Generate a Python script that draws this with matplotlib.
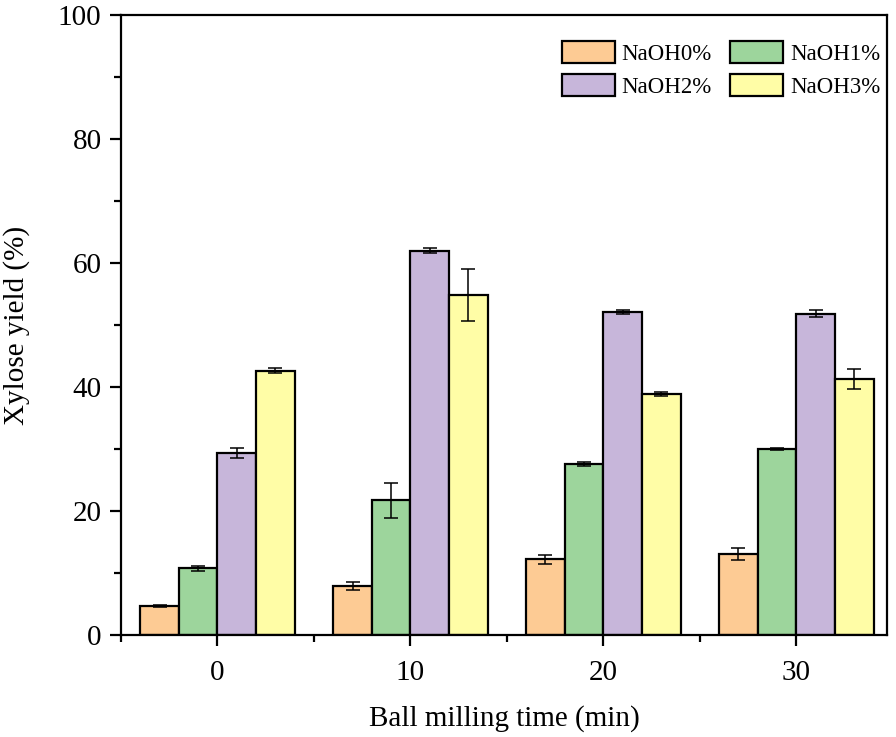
import numpy as np
import matplotlib.pyplot as plt
from matplotlib.ticker import MultipleLocator

plt.rcParams['font.family'] = ['Liberation Serif', 'DejaVu Serif']

times = ['0', '10', '20', '30']
series = ['NaOH0%', 'NaOH1%', 'NaOH2%', 'NaOH3%']
naoh0 = [4.7, 7.9, 12.2, 13.1]
naoh1 = [10.8, 21.7, 27.6, 30.0]
naoh2 = [29.3, 62.0, 52.1, 51.8]
naoh3 = [42.6, 54.9, 38.9, 41.3]
err0 = [0.2, 0.7, 0.75, 1.0]
err1 = [0.4, 2.8, 0.3, 0.15]
err2 = [0.8, 0.4, 0.3, 0.55]
err3 = [0.4, 4.2, 0.3, 1.6]
colors = ['#FDCB94', '#9DD59C', '#C7B6DA', '#FFFDA6']

values = [naoh0, naoh1, naoh2, naoh3]
errors = [err0, err1, err2, err3]

fig = plt.figure(figsize=(8.96, 7.37), dpi=100)
ax = fig.add_axes([0.135, 0.1384, 0.855, 0.8412])

x = np.arange(len(times))
w = 0.2
for i, (v, e) in enumerate(zip(values, errors)):
    ax.bar(x + (i - 1.5) * w, v, w, color=colors[i], edgecolor='black',
           linewidth=1.6, label=series[i],
           yerr=e, capsize=5, error_kw=dict(ecolor='black', elinewidth=1.1, capthick=1.1))

ax.set_xlim(-0.5, 3.47)
ax.set_ylim(0, 100)
ax.set_xticks(x)
ax.set_xticklabels(times)
ax.xaxis.set_minor_locator(MultipleLocator(0.5))
ax.yaxis.set_major_locator(MultipleLocator(20))
ax.yaxis.set_minor_locator(MultipleLocator(10))

for s in ax.spines.values():
    s.set_linewidth(1.6)
ax.tick_params(which='major', direction='out', length=8, width=1.6, labelsize=21)
ax.tick_params(which='minor', direction='out', length=5, width=1.6)
ax.tick_params(axis='x', which='major', pad=10)
ax.tick_params(axis='y', which='major', pad=6)

ax.set_xlabel('Ball milling time (min)', fontsize=21, labelpad=14)
ax.set_ylabel('Xylose yield (%)', fontsize=21, labelpad=20)

# row-wise legend order: 0%, 1% / 2%, 3%
handles, labels = ax.get_legend_handles_labels()
order = [0, 2, 1, 3]
ax.legend([handles[k] for k in order], [labels[k] for k in order],
          ncol=2, frameon=False, loc='upper right', bbox_to_anchor=(1.006, 0.977),
          borderaxespad=0.1, fontsize=16.5, handlelength=2.3, handleheight=1.1,
          handletextpad=0.3, columnspacing=0.8, labelspacing=0.4)

plt.savefig('out.png', dpi=100)
